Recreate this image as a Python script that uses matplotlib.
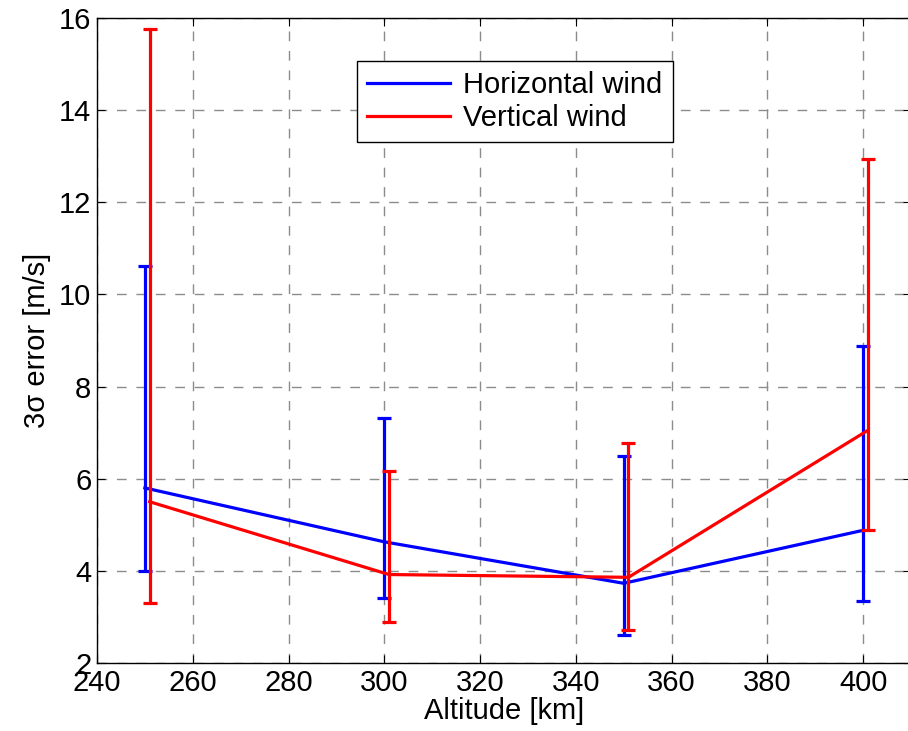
"""
Wind error vs. altitude, with 3-sigma bars.
"""

import matplotlib
matplotlib.use('Agg')
import matplotlib.pyplot as plt
import numpy as np

# Horizontal wind
alt_h = [250, 300, 350, 400]
err_h = [5.80, 4.63, 3.73, 4.88]
low_h = [4.00, 3.41, 2.61, 3.35]
high_h = [10.62, 7.32, 6.49, 8.87]

# Vertical wind (slightly shifted in altitude)
alt_v = [251, 301, 351, 401]
err_v = [5.50, 3.92, 3.86, 7.05]
low_v = [3.31, 2.88, 2.71, 4.89]
high_v = [15.77, 6.17, 6.78, 12.95]

xticks = [240, 260, 280, 300, 320, 340, 360, 380, 400]
yticks = [2, 4, 6, 8, 10, 12, 14, 16]

plt.rcParams['font.family'] = ['Liberation Sans', 'DejaVu Sans']
plt.rcParams['font.size'] = 21

fig = plt.figure(figsize=(9.08, 7.31), dpi=100)
# right edge falls just outside the picture, like the cropped original
ax = fig.add_axes([97 / 908, 68 / 731, 814 / 908, 645 / 731])

lw = 2.3


def draw(x, y, lo, hi, color, label):
    y = np.array(y)
    yerr = [y - np.array(lo), np.array(hi) - y]
    ax.errorbar(x, y, yerr=yerr, fmt='none', ecolor=color, elinewidth=lw,
                capsize=4.7, capthick=lw, zorder=3)
    ax.plot(x, y, color=color, lw=lw, label=label, zorder=3)


draw(alt_h, err_h, low_h, high_h, '#0000ff', 'Horizontal wind')
draw(alt_v, err_v, low_v, high_v, '#ff0000', 'Vertical wind')

ax.set_xlim(240, 410)
ax.set_ylim(2, 16)
ax.set_xticks(xticks)
ax.set_yticks(yticks)
ax.tick_params(direction='in', length=6, width=0.8, top=True, right=True, pad=4)
ax.grid(True, color='#8c8c8c', linestyle=(0, (7, 7)), linewidth=1.0)
for sp in ax.spines.values():
    sp.set_linewidth(1.0)
    sp.set_color('black')

ax.set_xlabel('Altitude [km]', labelpad=0)
ax.set_ylabel('3σ error [m/s]', labelpad=6)

leg = ax.legend(loc='upper left', bbox_to_anchor=(0.319, 0.933), borderaxespad=0,
                fancybox=False, framealpha=1, edgecolor='black',
                handlelength=2.85, handletextpad=0.45, borderpad=0.35,
                labelspacing=0.15)
leg.get_frame().set_linewidth(1.0)

fig.savefig('out.png', dpi=100)
